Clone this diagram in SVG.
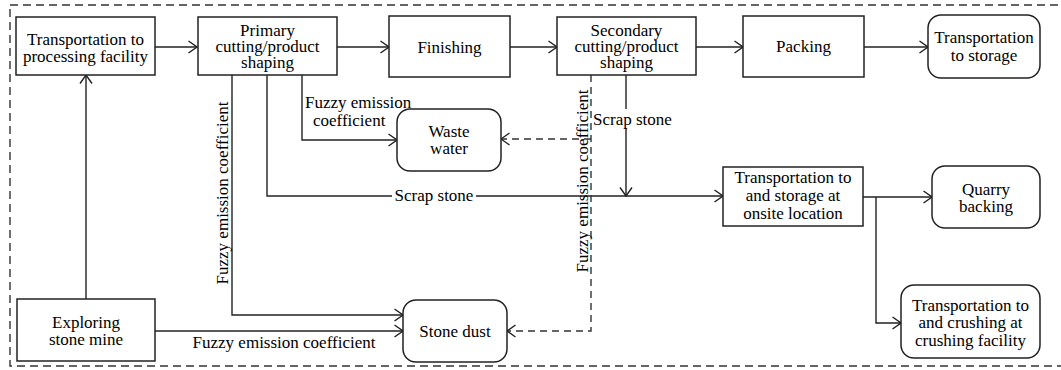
<svg xmlns="http://www.w3.org/2000/svg" width="1061" height="370" viewBox="0 0 1061 370">
<defs>
<marker id="arr" viewBox="0 0 10 14" refX="9.5" refY="7" markerWidth="10" markerHeight="14" markerUnits="userSpaceOnUse" orient="auto">
<path d="M1,1 L9.5,7 L1,13" fill="none" stroke="#222" stroke-width="1.4"/>
</marker>
</defs>
<rect width="1061" height="370" fill="#fff"/>
<rect x="10" y="5" width="1062" height="361" fill="none" stroke="#333" stroke-width="1.4" stroke-dasharray="8 5"/>
<g id="connectors" fill="none" stroke="#222" stroke-width="1.4">
<path d="M155,47 H197" marker-end="url(#arr)"/>
<path d="M337,47 H389" marker-end="url(#arr)"/>
<path d="M510,47 H557" marker-end="url(#arr)"/>
<path d="M696,47 H743" marker-end="url(#arr)"/>
<path d="M864,47 H928" marker-end="url(#arr)"/>
<path d="M86,299 V75" marker-end="url(#arr)"/>
<path d="M232,75 V315 H403" marker-end="url(#arr)"/>
<path d="M267,75 V196 H723" marker-end="url(#arr)"/>
<path d="M302,75 V140 H397" marker-end="url(#arr)"/>
<path d="M626,75 V196" marker-end="url(#arr)"/>
<path d="M155,331 H403" marker-end="url(#arr)"/>
<path d="M863,197 H932" marker-end="url(#arr)"/>
<path d="M876,197 V323 H901" marker-end="url(#arr)"/>
<path d="M591,75 V331 H507" stroke="#333" stroke-dasharray="7 5" marker-end="url(#arr)"/>
<path d="M591,139 H501" stroke="#333" stroke-dasharray="7 5" marker-end="url(#arr)"/>
<rect x="392" y="189" width="84" height="14" fill="#fff" stroke="none"/>
<rect x="592" y="109" width="82" height="19" fill="#fff" stroke="none"/>
</g>
<text x="434" y="201" font-family="Times New Roman" font-size="17" text-anchor="middle">Scrap stone</text>
<text x="593" y="125" font-family="Times New Roman" font-size="17">Scrap stone</text>
<text x="305" y="108" font-family="Times New Roman" font-size="17">Fuzzy emission</text>
<text x="313" y="126" font-family="Times New Roman" font-size="17">coefficient</text>
<text x="284" y="348" font-family="Times New Roman" font-size="17" text-anchor="middle">Fuzzy emission coefficient</text>
<text transform="translate(228,193) rotate(-90)" font-family="Times New Roman" font-size="17" text-anchor="middle">Fuzzy emission coefficient</text>
<text transform="translate(588,181) rotate(-90)" font-family="Times New Roman" font-size="17" text-anchor="middle">Fuzzy emission coefficient</text>
<g id="transport-processing">
<rect x="16" y="17" width="139" height="58" fill="#fff" stroke="#222" stroke-width="1.5"/>
<text x="85.5" y="45" font-family="Times New Roman" font-size="17" text-anchor="middle">Transportation to</text>
<text x="85.5" y="62" font-family="Times New Roman" font-size="17" text-anchor="middle">processing facility</text>
</g>
<g id="primary-cutting">
<rect x="198" y="17" width="139" height="58" fill="#fff" stroke="#222" stroke-width="1.5"/>
<text x="267.5" y="36" font-family="Times New Roman" font-size="17" text-anchor="middle">Primary</text>
<text x="267.5" y="52" font-family="Times New Roman" font-size="17" text-anchor="middle">cutting/product</text>
<text x="267.5" y="68" font-family="Times New Roman" font-size="17" text-anchor="middle">shaping</text>
</g>
<g id="finishing">
<rect x="389" y="16" width="121" height="61" fill="#fff" stroke="#222" stroke-width="1.5"/>
<text x="449.5" y="53" font-family="Times New Roman" font-size="17" text-anchor="middle">Finishing</text>
</g>
<g id="secondary-cutting">
<rect x="557" y="17" width="139" height="58" fill="#fff" stroke="#222" stroke-width="1.5"/>
<text x="626.5" y="36" font-family="Times New Roman" font-size="17" text-anchor="middle">Secondary</text>
<text x="626.5" y="52" font-family="Times New Roman" font-size="17" text-anchor="middle">cutting/product</text>
<text x="626.5" y="68" font-family="Times New Roman" font-size="17" text-anchor="middle">shaping</text>
</g>
<g id="packing">
<rect x="743" y="16" width="121" height="61" fill="#fff" stroke="#222" stroke-width="1.5"/>
<text x="803.5" y="52" font-family="Times New Roman" font-size="17" text-anchor="middle">Packing</text>
</g>
<g id="transport-storage">
<rect x="928" y="15" width="112" height="63" rx="13" fill="#fff" stroke="#222" stroke-width="1.5"/>
<text x="984" y="43" font-family="Times New Roman" font-size="17" text-anchor="middle">Transportation</text>
<text x="984" y="61" font-family="Times New Roman" font-size="17" text-anchor="middle">to storage</text>
</g>
<g id="waste-water">
<rect x="397" y="109" width="104" height="62" rx="13" fill="#fff" stroke="#222" stroke-width="1.5"/>
<text x="449" y="137" font-family="Times New Roman" font-size="17" text-anchor="middle">Waste</text>
<text x="449" y="154" font-family="Times New Roman" font-size="17" text-anchor="middle">water</text>
</g>
<g id="onsite-storage">
<rect x="723" y="167" width="140" height="59" fill="#fff" stroke="#222" stroke-width="1.5"/>
<text x="793" y="183" font-family="Times New Roman" font-size="17" text-anchor="middle">Transportation to</text>
<text x="793" y="201" font-family="Times New Roman" font-size="17" text-anchor="middle">and storage at</text>
<text x="793" y="219" font-family="Times New Roman" font-size="17" text-anchor="middle">onsite location</text>
</g>
<g id="quarry-backing">
<rect x="932" y="166" width="108" height="62" rx="13" fill="#fff" stroke="#222" stroke-width="1.5"/>
<text x="986" y="195" font-family="Times New Roman" font-size="17" text-anchor="middle">Quarry</text>
<text x="986" y="212" font-family="Times New Roman" font-size="17" text-anchor="middle">backing</text>
</g>
<g id="crushing-facility">
<rect x="901" y="285" width="139" height="73" rx="13" fill="#fff" stroke="#222" stroke-width="1.5"/>
<text x="970.5" y="311" font-family="Times New Roman" font-size="17" text-anchor="middle">Transportation to</text>
<text x="970.5" y="328" font-family="Times New Roman" font-size="17" text-anchor="middle">and crushing at</text>
<text x="970.5" y="346" font-family="Times New Roman" font-size="17" text-anchor="middle">crushing facility</text>
</g>
<g id="exploring">
<rect x="17" y="299" width="138" height="62" fill="#fff" stroke="#222" stroke-width="1.5"/>
<text x="86" y="328" font-family="Times New Roman" font-size="17" text-anchor="middle">Exploring</text>
<text x="86" y="345" font-family="Times New Roman" font-size="17" text-anchor="middle">stone mine</text>
</g>
<g id="stone-dust">
<rect x="403" y="300" width="104" height="62" rx="13" fill="#fff" stroke="#222" stroke-width="1.5"/>
<text x="455" y="337" font-family="Times New Roman" font-size="17" text-anchor="middle">Stone dust</text>
</g>
</svg>
